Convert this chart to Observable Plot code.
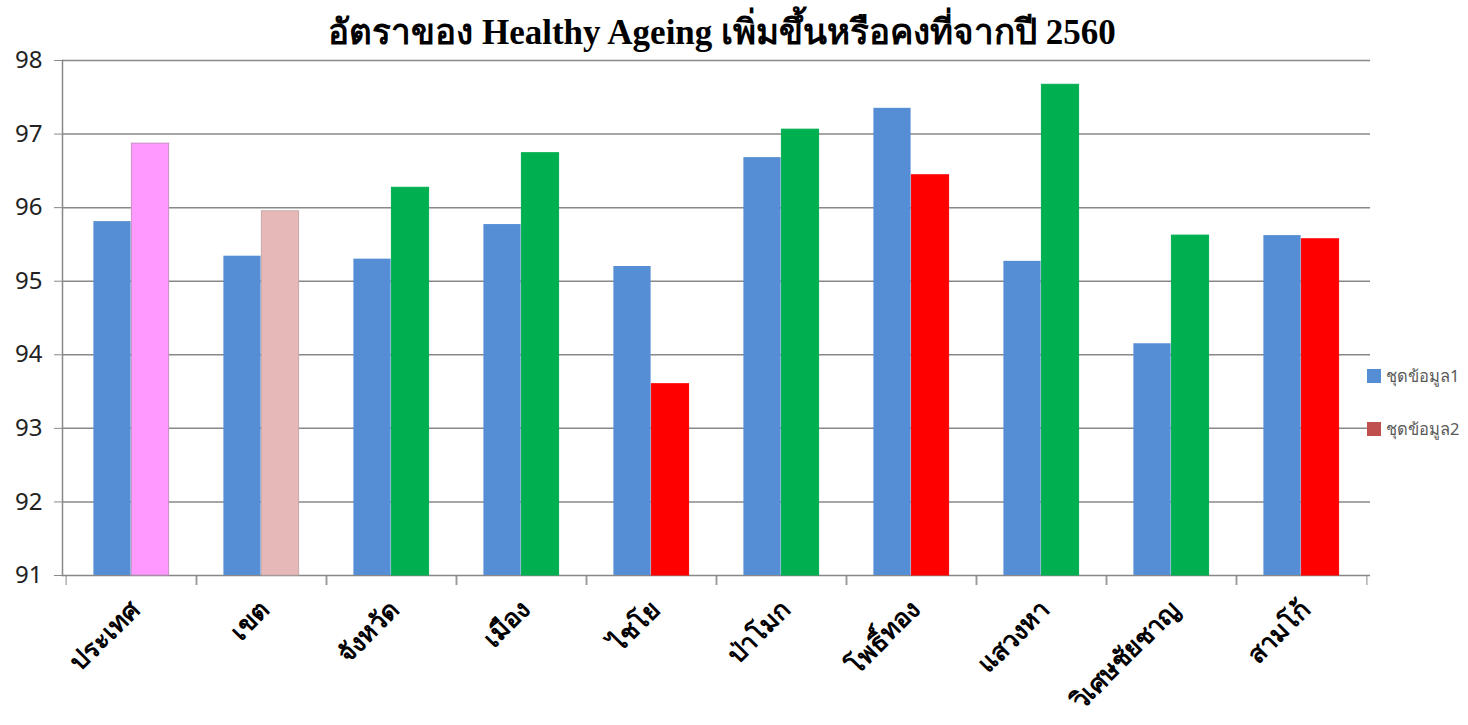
<!DOCTYPE html>
<html>
<head>
<meta charset="utf-8">
<script src="https://cdn.jsdelivr.net/npm/d3@7"></script>
<script src="https://cdn.jsdelivr.net/npm/@observablehq/plot@0.6"></script>
<style>
  html, body { margin: 0; padding: 0; background: #fff; }
  #wrap { position: relative; width: 1468px; height: 725px; overflow: hidden; }
  #title { position: absolute; left: -12px; top: 15px; width: 1468px; text-align: center;
    font-family: "Liberation Serif", "Noto Sans", sans-serif; font-weight: bold; font-size: 35px; line-height: 1; color: #000; z-index: 2; }
  .leg { position: absolute; left: 1367px; font-family: "Noto Sans", "DejaVu Sans", sans-serif; font-size: 16.5px; color: #595959; display: flex; align-items: center; z-index: 2; }
  .leg span.sw { display: inline-block; width: 14px; height: 14px; margin-right: 5px; }
</style>
</head>
<body>
<div id="wrap">
  <div id="title">อัตราของ Healthy Ageing เพิ่มขึ้นหรือคงที่จากปี 2560</div>
  <div id="chart"></div>
</div>
<script>
const categories = ["ประเทศ","เขต","จังหวัด","เมือง","ไชโย","ป่าโมก","โพธิ์ทอง","แสวงหา","วิเศษชัยชาญ","สามโก้"];
const series1 = [95.81, 95.34, 95.30, 95.77, 95.20, 96.68, 97.35, 95.27, 94.15, 95.62];
const series2 = [96.87, 95.95, 96.27, 96.74, 93.60, 97.06, 96.44, 97.67, 95.62, 95.57];
const series2Colors = ["#FF99FF","#E6B9B8","#00B050","#00B050","#FF0000","#00B050","#FF0000","#00B050","#00B050","#FF0000"];
const series2Strokes = ["#C890C8","#C8A8A8","#00B050","#00B050","#FF0000","#00B050","#FF0000","#00B050","#00B050","#FF0000"];
const seriesNames = ["ชุดข้อมูล1","ชุดข้อมูล2"];
const legendColors = ["#558ED5","#C0504D"];
const yTicks = [91,92,93,94,95,96,97,98];

const W = 1468, H = 725;
const mL = 62, mR = 98, mT = 60, mB = 150;
const step = (W - mL - mR) / categories.length;
const bw = 38;
const pad = (step - 2 * bw) / 2;

const d1 = categories.map((c, i) => ({cat: c, v: series1[i]}));
const d2 = categories.map((c, i) => ({cat: c, v: series2[i], color: series2Colors[i], stroke: series2Strokes[i]}));

const plot = Plot.plot({
  width: W, height: H,
  marginLeft: mL, marginRight: mR, marginTop: mT, marginBottom: mB,
  style: {fontFamily: "'Noto Sans', 'DejaVu Sans', sans-serif", background: "transparent", color: "#000"},
  x: {domain: categories, padding: 0, label: null},
  y: {domain: [91, 98], label: null},
  marks: [
    Plot.gridY(yTicks, {stroke: "#888888", strokeOpacity: 1, strokeWidth: 1.5}),
    Plot.barY(d1, {x: "cat", y1: 91, y2: "v", fill: "#558ED5", insetLeft: pad, insetRight: step - pad - bw}),
    Plot.barY(d2, {x: "cat", y1: 91, y2: "v", fill: "color", stroke: "stroke", strokeWidth: 1, insetLeft: pad + bw, insetRight: pad}),
    Plot.frame({anchor: "left", stroke: "#888888", strokeWidth: 1.5}),
    Plot.axisY(yTicks, {tickSize: 8, tickPadding: 12, fontSize: 24, stroke: "#888888", fill: "#222", tickFormat: d => String(d)}),
    Plot.axisX({text: null, tickSize: 10, dx: -step / 2, stroke: "#888888"}),
    Plot.axisX({text: null, tickSize: 10, dx: step / 2, stroke: "#888888"}),
    Plot.axisX({tickSize: 0, tickPadding: 30, tickRotate: -45, fontSize: 25.5, fontWeight: "bold", fill: "#000", label: null, dx: 4})
  ]
});
document.getElementById("chart").appendChild(plot);

const wrap = document.getElementById("wrap");
seriesNames.forEach((n, i) => {
  const el = document.createElement("div");
  el.className = "leg";
  el.style.top = (363 + i * 53) + "px";
  el.innerHTML = `<span class="sw" style="background:${legendColors[i]}"></span><span>${n}</span>`;
  wrap.appendChild(el);
});
</script>
</body>
</html>
